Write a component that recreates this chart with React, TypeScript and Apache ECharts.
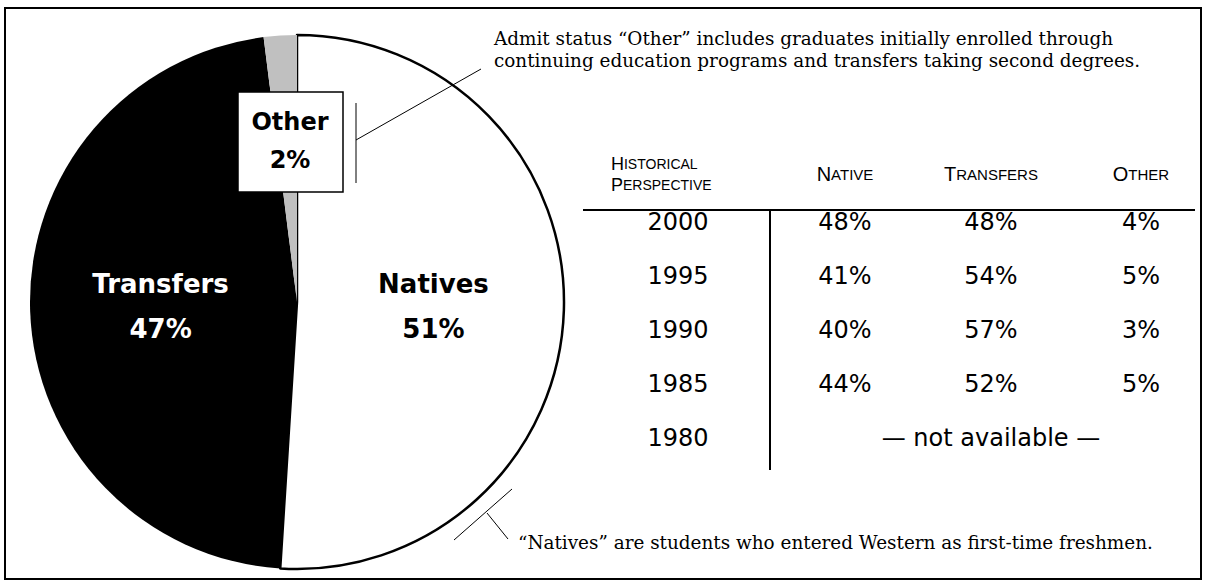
import React, { useEffect, useRef } from "react";
import * as echarts from "echarts";

// ---- Data ----
const sliceNames = ["Natives", "Transfers", "Other"];
const sliceValues = [51, 47, 2];
const sliceColors = ["#ffffff", "#000000", "#c0c0c0"];

const years = ["2000", "1995", "1990", "1985", "1980"];
const nativePct = ["48%", "41%", "40%", "44%", ""];
const transferPct = ["48%", "54%", "57%", "52%", ""];
const otherPct = ["4%", "5%", "3%", "5%", ""];
const notAvailableText = "— not available —";

// small-caps headers: [first letter, rest]
const headers: [string, string][] = [
  ["N", "ATIVE"],
  ["T", "RANSFERS"],
  ["O", "THER"],
];
const histHeader: [string, string][] = [
  ["H", "ISTORICAL"],
  ["P", "ERSPECTIVE"],
];

const noteTop = [
  "Admit status “Other” includes graduates initially enrolled through",
  "continuing education programs and transfers taking second degrees.",
];
const noteBottom = "“Natives” are students who entered Western as first-time freshmen.";

const SANS = "'Liberation Sans', Arial, Helvetica, sans-serif";
const SERIF = "'DejaVu Serif', 'Liberation Serif', serif";
const NUMFONT = "'DejaVu Sans', 'Liberation Sans', sans-serif";

export default function App() {
  const ref = useRef<HTMLDivElement>(null);

  useEffect(() => {
    if (!ref.current) return;
    const chart = echarts.init(ref.current, null, { renderer: "svg" });

    const colX = [678, 845, 991, 1141];
    const rowY0 = 222;
    const rowStep = 54;

    const tableEls: any[] = [];
    years.forEach((yr, i) => {
      const y = rowY0 + i * rowStep;
      const cells = [yr, nativePct[i], transferPct[i], otherPct[i]];
      cells.forEach((c, j) => {
        if (!c) return;
        tableEls.push({
          type: "text",
          x: colX[j],
          y,
          z: 100,
          style: {
            text: c,
            font: `24px ${NUMFONT}`,
            fill: "#000",
            align: "center",
            textAlign: "center",
            verticalAlign: "middle",
            textVerticalAlign: "middle",
          },
        });
      });
      if (!nativePct[i]) {
        tableEls.push({
          type: "text",
          x: colX[2],
          y,
          z: 100,
          style: {
            text: notAvailableText,
            font: `24px ${NUMFONT}`,
            fill: "#000",
            align: "center",
            textAlign: "center",
            verticalAlign: "middle",
            textVerticalAlign: "middle",
          },
        });
      }
    });

    const capRich = {
      b: { fontSize: 20, fontFamily: SANS, fill: "#000", color: "#000", lineHeight: 22 },
      s: { fontSize: 15, fontFamily: SANS, fill: "#000", color: "#000", lineHeight: 22 },
    };
    const histRich = {
      b: { fontSize: 18, fontFamily: SANS, fill: "#000", color: "#000", lineHeight: 21 },
      s: { fontSize: 14, fontFamily: SANS, fill: "#000", color: "#000", lineHeight: 21 },
    };

    headers.forEach((h, j) => {
      tableEls.push({
        type: "text",
        x: colX[j + 1],
        y: 174,
        z: 100,
        style: {
          text: `{b|${h[0]}}{s|${h[1]}}`,
          rich: capRich,
          fill: "#000",
          align: "center",
          textAlign: "center",
          verticalAlign: "middle",
          textVerticalAlign: "middle",
        },
      });
    });
    tableEls.push({
      type: "text",
      x: 611,
      y: 174,
      z: 100,
      style: {
        text: histHeader.map((h) => `{b|${h[0]}}{s|${h[1]}}`).join("\n"),
        rich: histRich,
        fill: "#000",
        align: "left",
        textAlign: "left",
        verticalAlign: "middle",
        textVerticalAlign: "middle",
      },
    });

    const option: any = {
      animation: false,
      backgroundColor: "#ffffff",
      series: [
        {
          type: "pie",
          center: [297, 302],
          radius: [0, 267],
          startAngle: 90,
          clockwise: true,
          silent: true,
          avoidLabelOverlap: false,
          labelLine: { show: false },
          emphasis: { disabled: true },
          data: sliceNames.map((n, i) => ({
            name: n,
            value: sliceValues[i],
            itemStyle: {
              color: sliceColors[i],
              borderColor: "#000",
              borderWidth: i === 0 ? 2.5 : 0,
            },
            label: {
              show: i !== 2,
              position: "inside",
              formatter: "{b}\n{c}%",
              color: i === 1 ? "#fff" : "#000",
              fontFamily: NUMFONT,
              fontWeight: "bold",
              fontSize: 26,
              lineHeight: 45,
              align: "center",
            },
          })),
        },
      ],
      graphic: {
        elements: [
          {
            type: "rect",
            z: 50,
            shape: { x: 5, y: 8, width: 1196, height: 571 },
            style: { fill: "none", stroke: "#000", lineWidth: 2 },
          },
          // Other label box
          {
            type: "rect",
            z: 100,
            shape: { x: 238, y: 92, width: 105, height: 100 },
            style: { fill: "#fff", stroke: "#000", lineWidth: 1.5 },
          },
          {
            type: "text",
            z: 101,
            x: 290,
            y: 141,
            style: {
              text: `${sliceNames[2]}\n${sliceValues[2]}%`,
              font: `bold 24px ${NUMFONT}`,
              lineHeight: 38,
              fill: "#000",
              align: "center",
              textAlign: "center",
              verticalAlign: "middle",
              textVerticalAlign: "middle",
            },
          },
          // top callout
          {
            type: "line",
            z: 100,
            shape: { x1: 356, y1: 103, x2: 356, y2: 183 },
            style: { stroke: "#000", lineWidth: 1 },
          },
          {
            type: "line",
            z: 100,
            shape: { x1: 356, y1: 140, x2: 481, y2: 69 },
            style: { stroke: "#000", lineWidth: 1 },
          },
          ...noteTop.map((t, k) => ({
            type: "text",
            z: 100,
            x: 494,
            y: 38 + k * 22,
            style: {
              text: t,
              font: `18.4px ${SERIF}`,
              fill: "#000",
              align: "left",
              textAlign: "left",
              verticalAlign: "middle",
              textVerticalAlign: "middle",
            },
          })),
          // bottom callout
          {
            type: "line",
            z: 100,
            shape: { x1: 454, y1: 540, x2: 512, y2: 489 },
            style: { stroke: "#000", lineWidth: 1 },
          },
          {
            type: "line",
            z: 100,
            shape: { x1: 487, y1: 513, x2: 508, y2: 539 },
            style: { stroke: "#000", lineWidth: 1 },
          },
          {
            type: "text",
            z: 100,
            x: 518,
            y: 542,
            style: {
              text: noteBottom,
              font: `18.4px ${SERIF}`,
              fill: "#000",
              align: "left",
              textAlign: "left",
              verticalAlign: "middle",
              textVerticalAlign: "middle",
            },
          },
          // table rules
          {
            type: "line",
            z: 100,
            shape: { x1: 583, y1: 210, x2: 1195, y2: 210 },
            style: { stroke: "#000", lineWidth: 2 },
          },
          {
            type: "line",
            z: 100,
            shape: { x1: 770, y1: 210, x2: 770, y2: 470 },
            style: { stroke: "#000", lineWidth: 2 },
          },
          ...tableEls,
        ],
      },
    };

    chart.setOption(option);
    return () => chart.dispose();
  }, []);

  return (
    <div
      ref={ref}
      style={{ position: "fixed", left: 0, top: 0, width: 1206, height: 584 }}
    />
  );
}
